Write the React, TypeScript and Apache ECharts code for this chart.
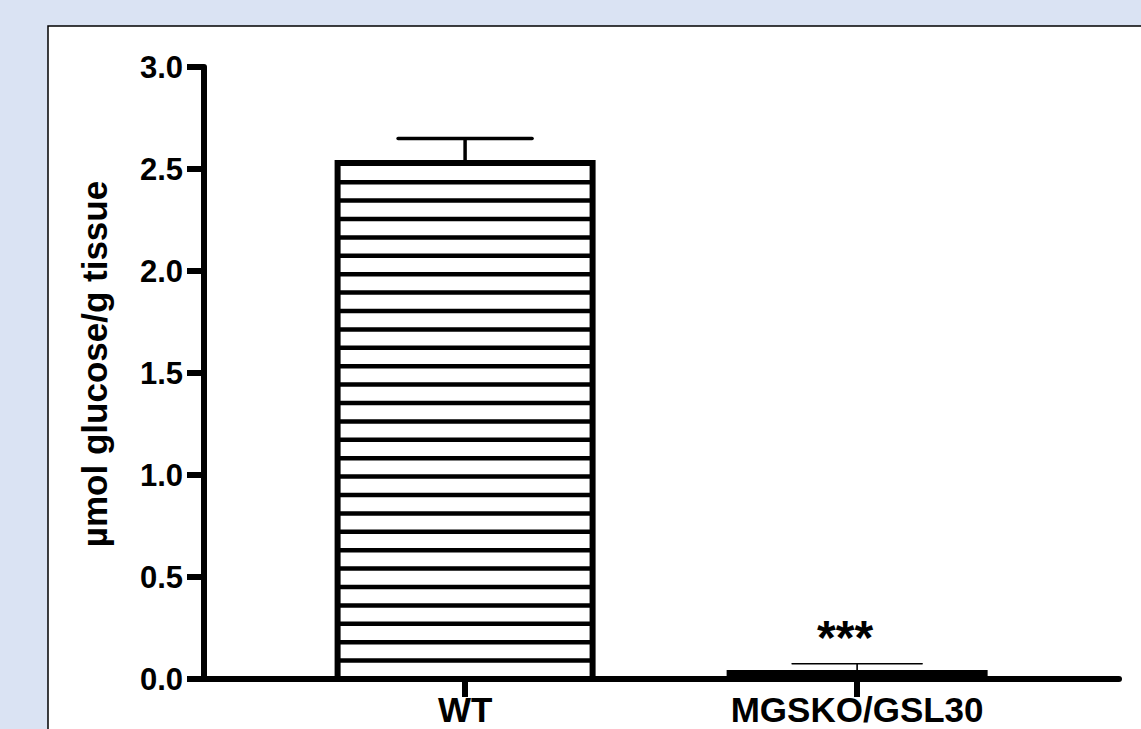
import React, { useEffect, useRef } from "react";
import * as echarts from "echarts";

// ---- data ----
const categories: string[] = ["WT", "MGSKO/GSL30"];
const means: number[] = [2.53, 0.03];
const upperErrors: number[] = [2.65, 0.075];
const significance: string[] = ["", "***"];
const yTicks = { min: 0, max: 3, interval: 0.5 };
const yAxisTitle = "µmol glucose/g tissue";

// ---- styles ----
const FONT = "'Liberation Sans', Arial, sans-serif";
const BAR_W = 255;
const HATCH_GAP = 18.4;
const CAP_HALF = [67, 65];
const ERR_LW = [3.5, 1.6];

export default function App() {
  const ref = useRef<HTMLDivElement>(null);
  useEffect(() => {
    if (!ref.current) return;
    const chart = echarts.init(ref.current, null, { renderer: "svg" });
    const barData = means.map((v, i) => [i, v]);
    const errData = means.map((v, i) => [i, v, upperErrors[i]]);
    chart.setOption({
      animation: false,
      backgroundColor: "#dae3f3",
      graphic: [
        {
          type: "rect",
          z: -10,
          shape: { x: 48, y: 26, width: 1200, height: 800 },
          style: { fill: "#ffffff", stroke: "#000", lineWidth: 1.5 },
        },
        {
          type: "text",
          z: 10,
          x: 94,
          y: 364,
          rotation: Math.PI / 2,
          style: {
            text: yAxisTitle,
            fontSize: 35,
            fontWeight: "bold",
            fontFamily: FONT,
            fill: "#000",
            align: "center",
            verticalAlign: "middle",
          },
        },
      ],
      grid: { left: 204, right: 22, top: 67, bottom: 50 },
      xAxis: {
        type: "value",
        min: -0.666,
        max: 1.668,
        splitLine: { show: false },
        axisLine: { show: true, onZero: false, lineStyle: { color: "#000", width: 6 } },
        axisTick: { show: true, customValues: [0, 1], length: 18, lineStyle: { color: "#000", width: 6 } },
        axisLabel: {
          customValues: [0, 1],
          formatter: (v: number) => categories[Math.round(v)] ?? "",
          fontSize: 35,
          fontWeight: "bold",
          fontFamily: FONT,
          color: "#000",
          margin: 13,
        },
      },
      yAxis: {
        type: "value",
        min: yTicks.min,
        max: yTicks.max,
        interval: yTicks.interval,
        splitLine: { show: false },
        axisLine: { show: true, onZero: false, lineStyle: { color: "#000", width: 6 } },
        axisTick: { show: true, length: 17, lineStyle: { color: "#000", width: 6 } },
        axisLabel: {
          formatter: (v: number) => v.toFixed(1),
          fontSize: 31,
          fontWeight: "bold",
          fontFamily: FONT,
          color: "#000",
          margin: 21,
        },
      },
      series: [
        {
          type: "custom",
          data: barData,
          z: 1,
          renderItem: (params: any, api: any) => {
            const i = api.value(0);
            const v = api.value(1);
            const top = api.coord([i, v]);
            const base = api.coord([i, 0]);
            const half = BAR_W / 2;
            const children: any[] = [
              {
                type: "rect",
                shape: { x: top[0] - half, y: top[1], width: BAR_W, height: base[1] - top[1] },
                style: { fill: "#fff", stroke: "#000", lineWidth: 6 },
              },
            ];
            for (let y = base[1] - HATCH_GAP; y > top[1] + 8; y -= HATCH_GAP) {
              children.push({
                type: "line",
                shape: { x1: top[0] - half, y1: y, x2: top[0] + half, y2: y },
                style: { stroke: "#000", lineWidth: 4.5 },
              });
            }
            return { type: "group", children };
          },
        },
        {
          type: "custom",
          data: errData,
          z: 2,
          renderItem: (params: any, api: any) => {
            const idx = params.dataIndex;
            const i = api.value(0);
            const m = api.coord([i, api.value(1)]);
            const u = api.coord([i, api.value(2)]);
            const lw = ERR_LW[idx];
            const ch = CAP_HALF[idx];
            const children: any[] = [
              {
                type: "line",
                shape: { x1: m[0], y1: m[1], x2: u[0], y2: u[1] },
                style: { stroke: "#000", lineWidth: lw },
              },
              {
                type: "line",
                shape: { x1: u[0] - ch, y1: u[1], x2: u[0] + ch, y2: u[1] },
                style: { stroke: "#000", lineWidth: lw, lineCap: "round" },
              },
            ];
            if (significance[idx]) {
              children.push({
                type: "text",
                x: u[0] - 12,
                y: u[1] - 2,
                style: {
                  text: significance[idx],
                  fontSize: 48,
                  fontWeight: "bold",
                  fontFamily: FONT,
                  fill: "#000",
                  align: "center",
                  verticalAlign: "bottom",
                },
              });
            }
            return { type: "group", children };
          },
        },
      ],
    });
    return () => chart.dispose();
  }, []);
  return (
    <div
      ref={ref}
      style={{ position: "absolute", left: 0, top: 0, width: 1141, height: 729 }}
    />
  );
}
